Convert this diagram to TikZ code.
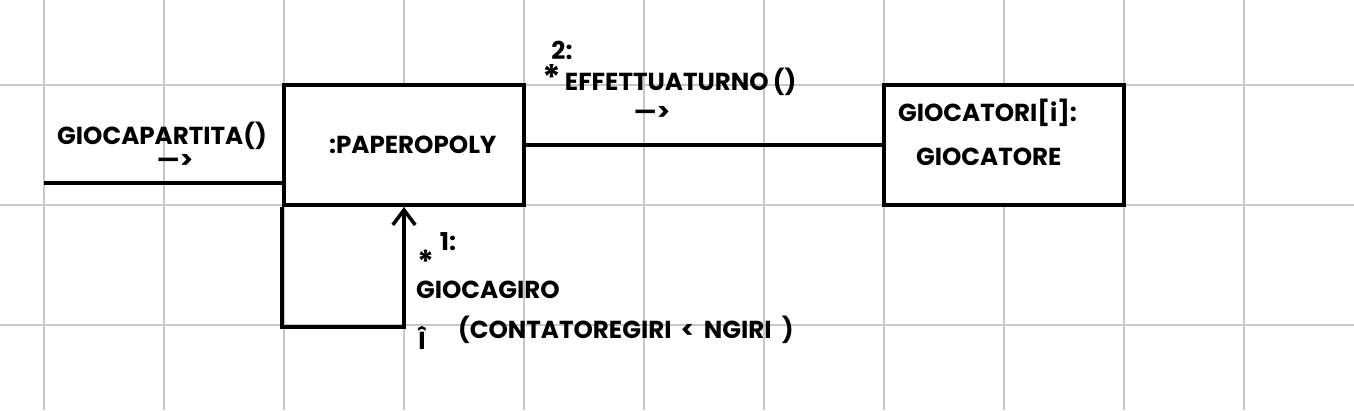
\documentclass[tikz,border=0pt]{standalone}
\usepackage{fontspec}
\setmainfont{Poppins}
\usepackage{tikz}
\usetikzlibrary{arrows.meta, positioning, calc}
\definecolor{gridgray}{RGB}{200,200,200}
\tikzset{
  gridline/.style={draw=gridgray, line width=1.1pt},
  obj/.style={draw, line width=2.3pt, minimum width=4.8cm, minimum height=2.4cm, inner sep=0pt, align=center},
  lbl/.style={inner sep=1pt, align=left},
  conn/.style={line width=2.3pt},
  arr/.style={conn, -{Straight Barb[length=3mm, width=4.5mm, line width=2pt]}},
}

\begin{document}
\begin{tikzpicture}[x=0.02cm, y=-0.02cm, font=\fontsize{14}{16}\selectfont\bfseries]
  \useasboundingbox (0,0) rectangle (1354,410);
  % squared paper
  \foreach \gx in {44,164,...,1244}
    \draw[gridline] (\gx,0) -- (\gx,410);
  \foreach \gy in {85,205,325}
    \draw[gridline] (0,\gy) -- (1354,\gy);

  \node[obj, fill=white] (pap) at (404,145) {\hspace{10pt}:PAPEROPOLY};
  \node[obj, fill=white] (gioc) at (1004,145) {};
  \node[lbl, anchor=west] (gname) at (896,113) {GIOCATORI[i]:};
  \node[lbl, anchor=west] (gtype) at (914,157) {GIOCATORE};

  \coordinate (start) at (44,183);
  \draw[conn] (start) -- (pap.west |- start);
  \node[lbl] (gpname) at (162,136) {GIOCAPARTITA()};
  \node[lbl] (gparr) at (175,161) {—>};

  \draw[conn] (pap.east) -- (gioc.west);
  \node[lbl] (two) at (562,50) {2:};
  \node[lbl, anchor=west] (effname) at (540,80) {{\fontsize{20}{20}\selectfont *}\,EFFETTUATURNO\,()};
  \node[lbl] (effarr) at (652,113) {—>};

  % self call
  \draw[arr] (pap.south west) -- ++(0,120) -| (pap.south);
  \node[lbl, inner sep=0pt] (star) at (426,262) {\fontsize{18}{18}\selectfont *};
  \node[lbl] (one) at (448,242) {1:};
  \node[lbl, anchor=west] (giro) at (414,290) {GIOCAGIRO};
  \node[lbl] (hat) at (422,338) {Î};
  \node[lbl, anchor=west] (guard) at (456,330) {(CONTATOREGIRI\, <\, NGIRI\ \ )};
\end{tikzpicture}
\end{document}
